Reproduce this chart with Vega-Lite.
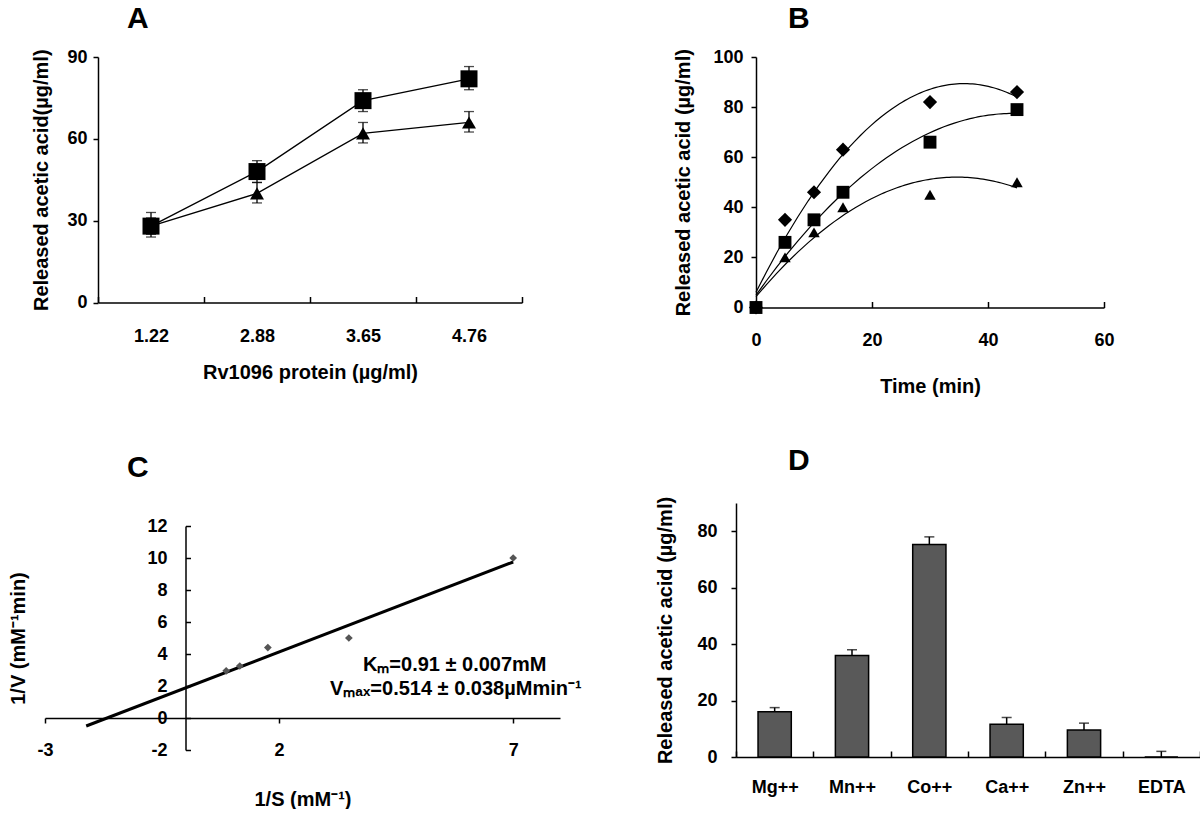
{
  "$schema": "https://vega.github.io/schema/vega-lite/v6.json",
  "background": "white",
  "padding": {"left": 8, "top": 4, "right": 0, "bottom": 0},
  "columns": 2,
  "bounds": "flush",
  "align": "each",
  "spacing": {"row": 195, "column": 176},
  "resolve": {"scale": {"shape": "independent", "size": "independent"}},
  "datasets": {
    "a": [
      {"conc": "1.22", "series": "triangle", "v": 28, "lo": 25, "hi": 31},
      {"conc": "2.88", "series": "triangle", "v": 40, "lo": 36.5, "hi": 44},
      {"conc": "3.65", "series": "triangle", "v": 62, "lo": 58.5, "hi": 66},
      {"conc": "4.76", "series": "triangle", "v": 66, "lo": 62.5, "hi": 70},
      {"conc": "1.22", "series": "square", "v": 28, "lo": 24, "hi": 33},
      {"conc": "2.88", "series": "square", "v": 48, "lo": 44, "hi": 52},
      {"conc": "3.65", "series": "square", "v": 74, "lo": 70, "hi": 78},
      {"conc": "4.76", "series": "square", "v": 82, "lo": 78, "hi": 86.5}
    ],
    "b": [
      {"series": "diamond", "t": 0, "y": 0},
      {"series": "diamond", "t": 5, "y": 35},
      {"series": "diamond", "t": 10, "y": 46},
      {"series": "diamond", "t": 15, "y": 63},
      {"series": "diamond", "t": 30, "y": 82},
      {"series": "diamond", "t": 45, "y": 86},
      {"series": "square", "t": 0, "y": 0},
      {"series": "square", "t": 5, "y": 26},
      {"series": "square", "t": 10, "y": 35},
      {"series": "square", "t": 15, "y": 46},
      {"series": "square", "t": 30, "y": 66},
      {"series": "square", "t": 45, "y": 79},
      {"series": "triangle", "t": 0, "y": 0},
      {"series": "triangle", "t": 5, "y": 20},
      {"series": "triangle", "t": 10, "y": 30},
      {"series": "triangle", "t": 15, "y": 40},
      {"series": "triangle", "t": 30, "y": 45},
      {"series": "triangle", "t": 45, "y": 50}
    ],
    "c_line": [
      {"x": -2.12, "y": -0.5},
      {"x": 7, "y": 9.75}
    ],
    "c_pts": [
      {"x": 0.87, "y": 2.95},
      {"x": 1.16, "y": 3.25},
      {"x": 1.76, "y": 4.4},
      {"x": 3.49, "y": 5.0},
      {"x": 7.0, "y": 10.0}
    ],
    "c_txt": [
      {"x": 3.79, "y": 3.3, "label": "Kₘ=0.91 ± 0.007mM"},
      {"x": 3.09, "y": 1.8, "label": "Vₘₐₓ=0.514 ± 0.038µMmin⁻¹"}
    ],
    "d": [
      {"ion": "Mg++", "v": 16, "hi": 17.5},
      {"ion": "Mn++", "v": 36, "hi": 38},
      {"ion": "Co++", "v": 75.3, "hi": 78},
      {"ion": "Ca++", "v": 11.6, "hi": 14},
      {"ion": "Zn++", "v": 9.6, "hi": 12},
      {"ion": "EDTA", "v": 0, "hi": 2}
    ]
  },
  "concat": [
    {
      "title": {"text": "A", "dx": 29, "offset": 14},
      "width": 424,
      "height": 245.5,
      "data": {"name": "a"},
      "encoding": {
        "x": {
          "field": "conc", "type": "ordinal",
          "scale": {"type": "band", "paddingInner": 0, "paddingOuter": 0},
          "axis": {"title": "Rv1096 protein (µg/ml)", "labelAngle": 0, "tickBand": "extent", "tickSize": -6, "labelPadding": 31, "titlePadding": 17}
        }
      },
      "layer": [
        {
          "mark": {"type": "rule", "color": "black", "strokeWidth": 1.3},
          "encoding": {
            "y": {"field": "lo", "type": "quantitative", "scale": {"domain": [0, 90], "nice": false},
              "axis": {"values": [0, 30, 60, 90], "format": "d", "title": "Released acetic acid(µg/ml)", "tickSize": 5, "labelPadding": 6, "titlePadding": 15}},
            "y2": {"field": "hi"}
          }
        },
        {
          "mark": {"type": "tick", "color": "black", "size": 10, "thickness": 1.3},
          "encoding": {"y": {"field": "lo", "type": "quantitative"}}
        },
        {
          "mark": {"type": "tick", "color": "black", "size": 10, "thickness": 1.3},
          "encoding": {"y": {"field": "hi", "type": "quantitative"}}
        },
        {
          "mark": {"type": "line", "color": "black", "strokeWidth": 1.3},
          "encoding": {"y": {"field": "v", "type": "quantitative"}, "detail": {"field": "series"}}
        },
        {
          "mark": {"type": "point", "filled": true, "color": "black", "opacity": 1},
          "encoding": {
            "y": {"field": "v", "type": "quantitative"},
            "shape": {"field": "series", "type": "nominal", "scale": {"domain": ["square", "triangle"], "range": ["square", "triangle-up"]}, "legend": null},
            "size": {"field": "series", "type": "nominal", "scale": {"domain": ["square", "triangle"], "range": [289, 196]}, "legend": null}
          }
        }
      ]
    },
    {
      "title": {"text": "B", "dx": 52, "offset": 14},
      "width": 368,
      "height": 250.5,
      "data": {"name": "b"},
      "layer": [
        {
          "transform": [{"regression": "y", "on": "t", "groupby": ["series"], "method": "poly", "order": 2, "extent": [0, 45]}],
          "mark": {"type": "line", "color": "black", "strokeWidth": 1.2},
          "encoding": {
            "x": {"field": "t", "type": "quantitative", "scale": {"domain": [0, 60], "range": [20, 368], "nice": false},
              "axis": {"values": [0, 20, 40, 60], "format": "d", "title": "Time (min)", "tickSize": -6, "labelPadding": 30, "titlePadding": 27, "labelFlush": false}},
            "y": {"field": "y", "type": "quantitative", "scale": {"domain": [0, 100], "nice": false},
              "axis": {"values": [0, 20, 40, 60, 80, 100], "format": "d", "title": "Released acetic acid (µg/ml)", "offset": -20, "tickSize": 5, "labelPadding": 8, "titlePadding": 19, "labelFlush": false}},
            "detail": {"field": "series"}
          }
        },
        {
          "mark": {"type": "point", "filled": true, "color": "black", "opacity": 1},
          "encoding": {
            "x": {"field": "t", "type": "quantitative"},
            "y": {"field": "y", "type": "quantitative"},
            "shape": {"field": "series", "type": "nominal", "scale": {"domain": ["diamond", "square", "triangle"], "range": ["diamond", "square", "triangle-up"]}, "legend": null},
            "size": {"field": "series", "type": "nominal", "scale": {"domain": ["diamond", "square", "triangle"], "range": [200, 132, 169]}, "legend": null}
          }
        }
      ]
    },
    {
      "title": {"text": "C", "dx": 29, "offset": 20},
      "width": 462,
      "height": 247,
      "layer": [
        {
          "data": {"name": "c_line"},
          "mark": {"type": "line", "color": "black", "strokeWidth": 3},
          "encoding": {
            "x": {"field": "x", "type": "quantitative", "scale": {"domain": [-3, 8], "range": [-53, 462], "nice": false, "zero": false},
              "axis": {"values": [-3, 2, 7], "format": "d", "title": "1/S (mM⁻¹)", "offset": -32, "tickSize": 5, "labelBaseline": "middle", "labelPadding": 27, "titlePadding": 30, "labelFlush": false, "labelExpr": "replace(datum.label, '−', '-')"}},
            "y": {"field": "y", "type": "quantitative", "scale": {"domain": [-2, 12], "range": [247, 23], "nice": false, "zero": false},
              "axis": {"values": [-2, 0, 2, 4, 6, 8, 10, 12], "tickCount": 8, "format": "d", "title": "1/V (mM⁻¹min)", "offset": -87.5, "tickSize": -5, "labelPadding": 23.5, "titlePadding": 118, "labelFlush": false, "labelExpr": "replace(datum.label, '−', '-')"}}
          }
        },
        {
          "data": {"name": "c_pts"},
          "mark": {"type": "point", "shape": "diamond", "filled": true, "color": "#555555", "size": 60, "opacity": 1},
          "encoding": {
            "x": {"field": "x", "type": "quantitative"},
            "y": {"field": "y", "type": "quantitative"}
          }
        },
        {
          "data": {"name": "c_txt"},
          "mark": {"type": "text", "align": "left", "baseline": "middle", "fontSize": 20, "fontWeight": "bold", "font": "Liberation Sans", "color": "black"},
          "encoding": {
            "x": {"field": "x", "type": "quantitative"},
            "y": {"field": "y", "type": "quantitative"},
            "text": {"field": "label"}
          }
        }
      ]
    },
    {
      "title": {"text": "D", "dx": 52, "offset": 20},
      "width": 464,
      "height": 254,
      "data": {"name": "d"},
      "encoding": {
        "x": {
          "field": "ion", "type": "nominal",
          "sort": ["Mg++", "Mn++", "Co++", "Ca++", "Zn++", "EDTA"],
          "scale": {"type": "band", "paddingInner": 0, "paddingOuter": 0},
          "axis": {"title": null, "labelAngle": 0, "tickBand": "extent", "tickSize": -6, "labelPadding": 27}
        }
      },
      "layer": [
        {
          "mark": {"type": "bar", "fill": "#595959", "stroke": "black", "strokeWidth": 1.5, "width": {"band": 0.43}},
          "encoding": {
            "y": {"field": "v", "type": "quantitative", "scale": {"domain": [0, 90], "nice": false},
              "axis": {"values": [0, 20, 40, 60, 80], "format": "d", "title": "Released acetic acid (µg/ml)", "tickSize": 5, "labelPadding": 14, "titlePadding": 21}}
          }
        },
        {
          "mark": {"type": "rule", "color": "black", "strokeWidth": 1.5},
          "encoding": {"y": {"field": "v", "type": "quantitative"}, "y2": {"field": "hi"}}
        },
        {
          "mark": {"type": "tick", "color": "black", "size": 10, "thickness": 1.5},
          "encoding": {"y": {"field": "hi", "type": "quantitative"}}
        }
      ]
    }
  ],
  "config": {
    "font": "Liberation Sans",
    "view": {"stroke": null},
    "axis": {
      "labelFont": "Liberation Sans", "labelFontWeight": "bold", "labelFontSize": 18, "labelColor": "black",
      "titleFont": "Liberation Sans", "titleFontWeight": "bold", "titleFontSize": 20, "titleColor": "black",
      "domainColor": "black", "domainWidth": 1.5, "tickColor": "black", "tickWidth": 1.5, "grid": false,
      "labelOverlap": false
    },
    "axisQuantitative": {"labelOverlap": false},
    "title": {"font": "Liberation Sans", "fontSize": 30, "fontWeight": "bold", "anchor": "start", "frame": "group", "color": "black"}
  }
}
